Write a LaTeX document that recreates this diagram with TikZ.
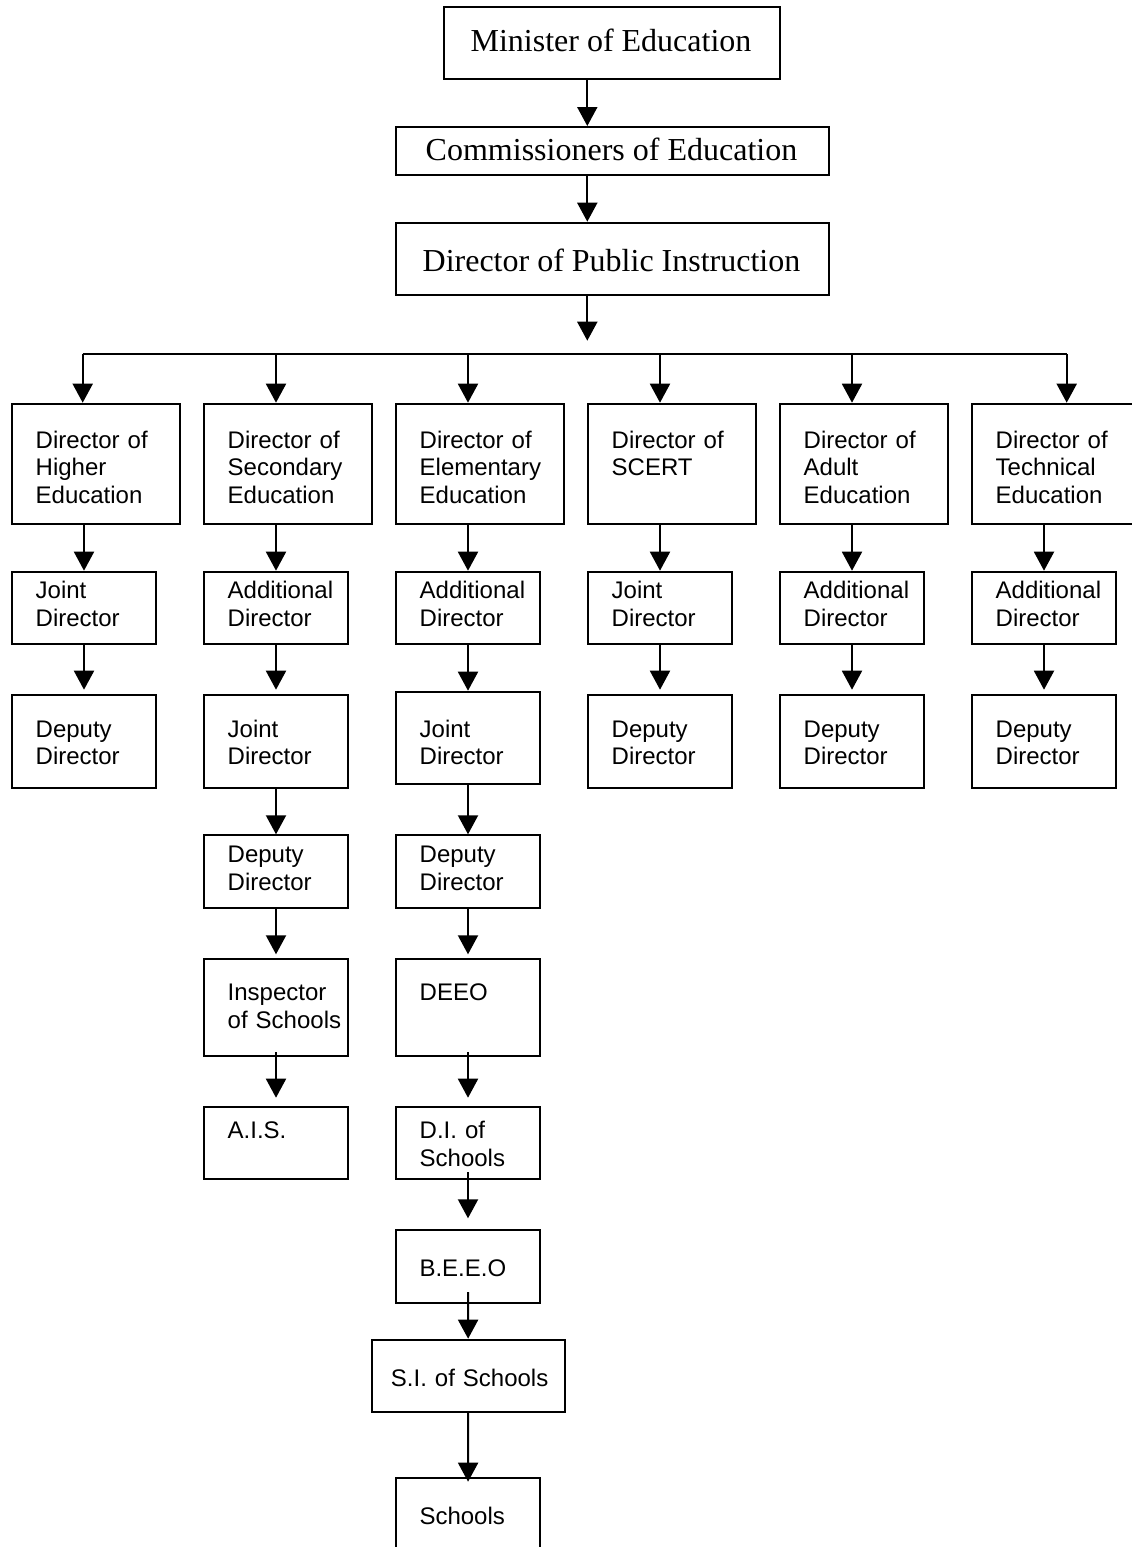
\documentclass[tikz,border=0pt]{standalone}
\usepackage{fontspec}
\setmainfont{Liberation Serif}
\setsansfont{Liberation Sans}
\usetikzlibrary{arrows.meta}

\begin{document}
\begin{tikzpicture}[
        box/.style={rectangle, draw, line width=2pt, inner sep=0pt, anchor=north west, minimum width=144.6pt},
        bigbox/.style={box, minimum width=168.6pt, minimum height=120.6pt},
        title/.style={font=\fontsize{32pt}{36.8pt}\selectfont, inner sep=0pt, anchor=base},
        txt/.style={font=\sffamily\fontsize{24pt}{27.8pt}\selectfont, text width=165pt, align=left, inner sep=0pt, anchor=base west},
        line/.style={line width=2pt},
        arr/.style={line, -{Triangle[width=20pt,length=19pt]}}
    ]
    \useasboundingbox (0pt,0pt) rectangle (1132pt,-1547pt);

    % minister, commissioners, DPI
    \node[box, minimum width=336pt, minimum height=72.3pt] (min) at (443pt,-6pt) {};
    \node[title] (min-t) at (611pt,-51pt) {Minister of Education};
    \node[box, minimum width=433pt, minimum height=48pt] (com) at (395pt,-126pt) {};
    \node[title] (com-t) at (611.5pt,-160.7pt) {Commissioners of Education};
    \node[box, minimum width=433pt, minimum height=72.3pt] (dpi) at (395pt,-221.7pt) {};
    \node[title] (dpi-t) at (611.5pt,-271.7pt) {Director of Public Instruction};

    \coordinate (spine) at (587.3pt,0pt);
    \coordinate (busin) at (587.3pt,-340.7pt);
    \coordinate (busL) at (82.7pt,-354.3pt);
    \coordinate (busR) at (1066.7pt,-354.3pt);

    % directors
    \node[bigbox] (hed) at (10.7pt,-402.7pt) {};
    \node[txt] (hed-t) at (35.5pt,-448pt) {Director of\\Higher\\Education};
    \node[bigbox] (sec) at (202.7pt,-402.7pt) {};
    \node[txt] (sec-t) at (227.5pt,-448pt) {Director of\\Secondary\\Education};
    \node[bigbox] (ele) at (394.7pt,-402.7pt) {};
    \node[txt] (ele-t) at (419.5pt,-448pt) {Director of\\Elementary\\Education};
    \node[bigbox] (sce) at (586.7pt,-402.7pt) {};
    \node[txt] (sce-t) at (611.5pt,-448pt) {Director of\\SCERT};
    \node[bigbox] (adu) at (778.7pt,-402.7pt) {};
    \node[txt] (adu-t) at (803.5pt,-448pt) {Director of\\Adult\\Education};
    \node[bigbox] (tec) at (970.7pt,-402.7pt) {};
    \node[txt] (tec-t) at (995.5pt,-448pt) {Director of\\Technical\\Education};

    % second row
    \node[box, minimum height=72.6pt] (hedj) at (10.7pt,-570.7pt) {};
    \node[txt] (hedj-t) at (35.5pt,-598.3pt) {Joint\\Director};
    \node[box, minimum height=72.6pt] (secad) at (202.7pt,-570.7pt) {};
    \node[txt] (secad-t) at (227.5pt,-598.3pt) {Additional\\Director};
    \node[box, minimum height=72.6pt] (elead) at (394.7pt,-570.7pt) {};
    \node[txt] (elead-t) at (419.5pt,-598.3pt) {Additional\\Director};
    \node[box, minimum height=72.6pt] (scej) at (586.7pt,-570.7pt) {};
    \node[txt] (scej-t) at (611.5pt,-598.3pt) {Joint\\Director};
    \node[box, minimum height=72.6pt] (aduad) at (778.7pt,-570.7pt) {};
    \node[txt] (aduad-t) at (803.5pt,-598.3pt) {Additional\\Director};
    \node[box, minimum height=72.6pt] (tecad) at (970.7pt,-570.7pt) {};
    \node[txt] (tecad-t) at (995.5pt,-598.3pt) {Additional\\Director};

    % third row
    \node[box, minimum height=93.6pt] (hedd) at (10.7pt,-693.7pt) {};
    \node[txt] (hedd-t) at (35.5pt,-737pt) {Deputy\\Director};
    \node[box, minimum height=93.6pt] (secj) at (202.7pt,-693.7pt) {};
    \node[txt] (secj-t) at (227.5pt,-737pt) {Joint\\Director};
    \node[box, minimum height=92.6pt] (elej) at (394.7pt,-690.7pt) {};
    \node[txt] (elej-t) at (419.5pt,-737pt) {Joint\\Director};
    \node[box, minimum height=93.6pt] (sced) at (586.7pt,-693.7pt) {};
    \node[txt] (sced-t) at (611.5pt,-737pt) {Deputy\\Director};
    \node[box, minimum height=93.6pt] (adud) at (778.7pt,-693.7pt) {};
    \node[txt] (adud-t) at (803.5pt,-737pt) {Deputy\\Director};
    \node[box, minimum height=93.6pt] (tecd) at (970.7pt,-693.7pt) {};
    \node[txt] (tecd-t) at (995.5pt,-737pt) {Deputy\\Director};

    % secondary and elementary go further down
    \node[box, minimum height=72.7pt] (secd) at (202.7pt,-834.3pt) {};
    \node[txt] (secd-t) at (227.5pt,-862.7pt) {Deputy\\Director};
    \node[box, minimum height=72.7pt] (eled) at (394.7pt,-834.3pt) {};
    \node[txt] (eled-t) at (419.5pt,-862.7pt) {Deputy\\Director};
    \node[box, minimum height=96.4pt] (insp) at (202.7pt,-958.3pt) {};
    \node[txt] (insp-t) at (227.5pt,-1000.7pt) {Inspector\\of Schools};
    \node[box, minimum height=96.4pt] (deeo) at (394.7pt,-958.3pt) {};
    \node[txt] (deeo-t) at (419.5pt,-1000.7pt) {DEEO};
    \node[box, minimum height=72.6pt] (ais) at (202.7pt,-1105.7pt) {};
    \node[txt] (ais-t) at (227.5pt,-1138.3pt) {A.I.S.};
    \node[box, minimum height=72.6pt] (dis) at (394.7pt,-1105.7pt) {};
    \node[txt] (dis-t) at (419.5pt,-1138.3pt) {D.I. of\\Schools};
    \node[box, minimum height=72.7pt] (beeo) at (394.7pt,-1229.3pt) {};
    \node[txt] (beeo-t) at (419.3pt,-1276.7pt) {B.E.E.O};
    \node[box, minimum width=193pt, minimum height=72.3pt] (sis) at (370.7pt,-1338.7pt) {};
    \node[txt] (sis-t) at (390.7pt,-1386.7pt) {S.I. of Schools};
    \node[box, minimum height=85pt] (sch) at (394.7pt,-1476.7pt) {};
    \node[txt] (sch-t) at (419.3pt,-1524pt) {Schools};

    % arrows at the top
    \draw[arr] (min.south -| spine) -- (com.north -| spine);
    \draw[arr] (com.south -| spine) -- (dpi.north -| spine);
    \draw[arr] (dpi.south -| spine) -- (busin);
    \draw[line] (busL) -- (busR);
    \draw[arr] (busL) -- (busL |- hed.north);
    \draw[arr] (secad |- busL) -- (secad |- sec.north);
    \draw[arr] (elead |- busL) -- (elead |- ele.north);
    \draw[arr] (scej |- busL) -- (scej |- sce.north);
    \draw[arr] (aduad |- busL) -- (aduad |- adu.north);
    \draw[arr] (busR) -- (busR |- tec.north);

    % arrows in the columns
    \draw[arr] (hedj |- hed.south) -- (hedj.north);
    \draw[arr] (secad |- sec.south) -- (secad.north);
    \draw[arr] (elead |- ele.south) -- (elead.north);
    \draw[arr] (scej |- sce.south) -- (scej.north);
    \draw[arr] (aduad |- adu.south) -- (aduad.north);
    \draw[arr] (tecad |- tec.south) -- (tecad.north);
    \draw[arr, shorten >=4pt] (hedj) -- (hedd);
    \draw[arr, shorten >=4pt] (secad) -- (secj);
    \draw[arr] (elead) -- (elej);
    \draw[arr, shorten >=4pt] (scej) -- (sced);
    \draw[arr, shorten >=4pt] (aduad) -- (adud);
    \draw[arr, shorten >=4pt] (tecad) -- (tecd);
    \draw[arr] (secj) -- (secd);
    \draw[arr] (elej) -- (eled);
    \draw[arr, shorten >=4pt] (secd) -- (insp);
    \draw[arr, shorten >=4pt] (eled) -- (deeo);
    \draw[arr, shorten <=-4.5pt, shorten >=8pt] (insp) -- (ais);
    \draw[arr, shorten <=-4.5pt, shorten >=8pt] (deeo) -- (dis);
    \draw[arr, shorten <=-8pt, shorten >=11pt] (dis) -- (beeo);
    \draw[arr, shorten <=-12pt] (beeo) -- (sis);
    \draw[arr, shorten >=-5pt] (sis) -- (sch);
\end{tikzpicture}
\end{document}
